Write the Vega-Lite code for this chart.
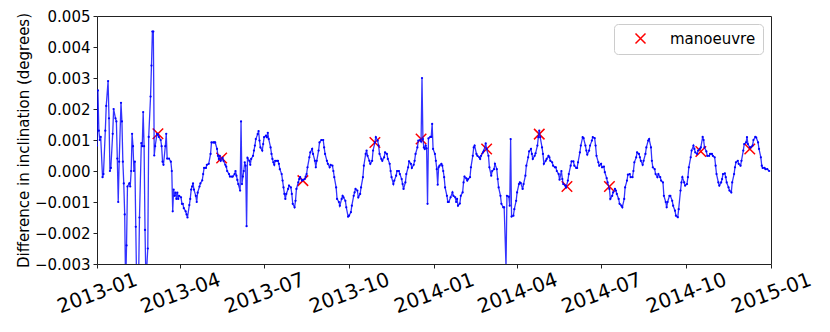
{
"$schema": "https://vega.github.io/schema/vega-lite/v6.json",
"width": 674, "height": 248,
"autosize": {"type": "none"},
"padding": {"left": 97, "top": 16, "right": 59, "bottom": 68},
"background": "white",
"config": {
 "view": {"stroke": "#222", "strokeWidth": 1},
 "font": "DejaVu Sans",
 "axis": {"grid": false, "domain": false, "tickColor": "#222", "tickWidth": 1, "labelColor": "#000", "titleColor": "#000", "labelFont": "DejaVu Sans", "titleFont": "DejaVu Sans", "titleFontWeight": "normal"}
},
"datasets": {
"s": [
{"d":"2013-01-01","v":0.00082},{"d":"2013-01-02","v":0.0026},{"d":"2013-01-03","v":0.0013},{"d":"2013-01-04","v":0.0010},{"d":"2013-01-05","v":0.0011},{"d":"2013-01-07","v":-0.0002},{"d":"2013-01-08","v":-0.0001},{"d":"2013-01-10","v":0.0013},{"d":"2013-01-11","v":0.0021},{"d":"2013-01-13","v":0.0029},{"d":"2013-01-14","v":0.0017},{"d":"2013-01-15","v":0.0},{"d":"2013-01-16","v":0.0001},{"d":"2013-01-18","v":0.0012},{"d":"2013-01-19","v":0.0020},{"d":"2013-01-21","v":0.0017},{"d":"2013-01-22","v":0.0016},{"d":"2013-01-23","v":0.0004},{"d":"2013-01-24","v":-0.0010},{"d":"2013-01-25","v":0.0003},{"d":"2013-01-27","v":0.0022},{"d":"2013-01-28","v":0.0016},{"d":"2013-01-29","v":0.0003},{"d":"2013-01-30","v":-0.0004},{"d":"2013-01-31","v":-0.0014},
{"d":"2013-02-01","v":-0.0038},{"d":"2013-02-02","v":-0.0024},{"d":"2013-02-03","v":-0.0005},{"d":"2013-02-05","v":-0.0004},{"d":"2013-02-06","v":-0.0005},{"d":"2013-02-07","v":0.0},{"d":"2013-02-08","v":0.0012},{"d":"2013-02-09","v":0.0008},{"d":"2013-02-10","v":0.0},{"d":"2013-02-11","v":0.0003},{"d":"2013-02-12","v":-0.0018},{"d":"2013-02-13","v":-0.0038},{"d":"2013-02-15","v":-0.0036},{"d":"2013-02-16","v":-0.0015},{"d":"2013-02-18","v":0.0009},{"d":"2013-02-19","v":0.0008},{"d":"2013-02-20","v":0.0019},{"d":"2013-02-21","v":0.0008},{"d":"2013-02-22","v":-0.0019},{"d":"2013-02-23","v":-0.0036},{"d":"2013-02-25","v":-0.0025},{"d":"2013-02-26","v":0.0011},{"d":"2013-02-28","v":0.0024},
{"d":"2013-03-01","v":0.0034},{"d":"2013-03-02","v":0.0045},{"d":"2013-03-03","v":0.0045},{"d":"2013-03-04","v":0.0005},{"d":"2013-03-05","v":0.0008},{"d":"2013-03-07","v":0.0012},{"d":"2013-03-08","v":0.00118},{"d":"2013-03-09","v":0.0011},{"d":"2013-03-11","v":0.0010},{"d":"2013-03-12","v":0.0008},{"d":"2013-03-13","v":0.0003},{"d":"2013-03-14","v":0.0002},{"d":"2013-03-16","v":0.0008},{"d":"2013-03-17","v":0.0012},{"d":"2013-03-18","v":0.0004},{"d":"2013-03-20","v":0.0004},{"d":"2013-03-22","v":0.0003},{"d":"2013-03-23","v":0.0},{"d":"2013-03-24","v":-0.0013},{"d":"2013-03-25","v":-0.0006},{"d":"2013-03-26","v":-0.0008},{"d":"2013-03-27","v":-0.0007},{"d":"2013-03-28","v":-0.0009},{"d":"2013-03-29","v":-0.0007},{"d":"2013-03-30","v":-0.0009},{"d":"2013-03-31","v":-0.0008},
{"d":"2013-04-02","v":-0.00085},{"d":"2013-04-03","v":-0.00106},{"d":"2013-04-04","v":-0.00106},{"d":"2013-04-05","v":-0.0012},{"d":"2013-04-07","v":-0.0013},{"d":"2013-04-08","v":-0.0014},{"d":"2013-04-09","v":-0.0015},{"d":"2013-04-11","v":-0.0011},{"d":"2013-04-12","v":-0.0009},{"d":"2013-04-13","v":-0.0006},{"d":"2013-04-14","v":-0.0005},{"d":"2013-04-15","v":-0.0004},{"d":"2013-04-16","v":-0.0006},{"d":"2013-04-18","v":-0.0008},{"d":"2013-04-19","v":-0.0010},{"d":"2013-04-20","v":-0.0007},{"d":"2013-04-22","v":-0.0005},{"d":"2013-04-23","v":-0.0004},{"d":"2013-04-25","v":-0.0003},{"d":"2013-04-26","v":-0.0001},{"d":"2013-04-27","v":0.0001},{"d":"2013-04-29","v":0.0001},{"d":"2013-04-30","v":0.0002},
{"d":"2013-05-02","v":0.00023},{"d":"2013-05-04","v":0.00055},{"d":"2013-05-05","v":0.00092},{"d":"2013-05-07","v":0.00092},{"d":"2013-05-08","v":0.00092},{"d":"2013-05-09","v":0.00092},{"d":"2013-05-11","v":0.00071},{"d":"2013-05-12","v":0.00049},{"d":"2013-05-13","v":0.00039},{"d":"2013-05-14","v":0.00049},{"d":"2013-05-15","v":0.00033},{"d":"2013-05-17","v":0.00042},{"d":"2013-05-18","v":0.00033},{"d":"2013-05-20","v":0.0002},{"d":"2013-05-21","v":0.00014},{"d":"2013-05-22","v":0.0},{"d":"2013-05-24","v":-0.0001},{"d":"2013-05-25","v":-0.00018},{"d":"2013-05-27","v":-0.00018},{"d":"2013-05-28","v":-0.00018},{"d":"2013-05-30","v":-0.0001},{"d":"2013-05-31","v":0.0},
{"d":"2013-06-01","v":-0.00015},{"d":"2013-06-02","v":-0.00029},{"d":"2013-06-03","v":-0.00042},{"d":"2013-06-05","v":-0.00063},{"d":"2013-06-06","v":0.0016},{"d":"2013-06-07","v":-0.00042},{"d":"2013-06-08","v":-0.00018},{"d":"2013-06-09","v":0.0},{"d":"2013-06-10","v":0.00028},{"d":"2013-06-11","v":0.00017},{"d":"2013-06-12","v":-0.00178},{"d":"2013-06-13","v":0.00042},{"d":"2013-06-15","v":0.00033},{"d":"2013-06-16","v":0.0002},{"d":"2013-06-17","v":0.00039},{"d":"2013-06-19","v":0.00049},{"d":"2013-06-20","v":0.00066},{"d":"2013-06-21","v":0.00082},{"d":"2013-06-22","v":0.00103},{"d":"2013-06-24","v":0.00119},{"d":"2013-06-25","v":0.00129},{"d":"2013-06-26","v":0.00098},{"d":"2013-06-27","v":0.00076},{"d":"2013-06-29","v":0.00066},{"d":"2013-06-30","v":0.00087},
{"d":"2013-07-01","v":0.00109},{"d":"2013-07-03","v":0.00114},{"d":"2013-07-04","v":0.00109},{"d":"2013-07-05","v":0.00123},{"d":"2013-07-06","v":0.00103},{"d":"2013-07-08","v":0.00076},{"d":"2013-07-09","v":0.00055},{"d":"2013-07-10","v":0.00039},{"d":"2013-07-11","v":0.00028},{"d":"2013-07-12","v":0.0002},{"d":"2013-07-13","v":0.00033},{"d":"2013-07-15","v":0.00033},{"d":"2013-07-16","v":0.00033},{"d":"2013-07-17","v":0.00023},{"d":"2013-07-18","v":0.00006},{"d":"2013-07-20","v":-0.0001},{"d":"2013-07-21","v":-0.00031},{"d":"2013-07-22","v":-0.00053},{"d":"2013-07-23","v":-0.00074},{"d":"2013-07-24","v":-0.0009},{"d":"2013-07-25","v":-0.00074},{"d":"2013-07-27","v":-0.00058},{"d":"2013-07-28","v":-0.00047},{"d":"2013-07-30","v":-0.00053},{"d":"2013-07-31","v":-0.00074},
{"d":"2013-08-01","v":-0.00106},{"d":"2013-08-03","v":-0.00117},{"d":"2013-08-04","v":-0.00096},{"d":"2013-08-05","v":-0.00058},{"d":"2013-08-07","v":-0.00037},{"d":"2013-08-08","v":-0.00026},{"d":"2013-08-09","v":-0.0002},{"d":"2013-08-11","v":-0.00031},{"d":"2013-08-12","v":-0.00029},{"d":"2013-08-14","v":-0.00026},{"d":"2013-08-15","v":-0.00018},{"d":"2013-08-16","v":-0.0001},{"d":"2013-08-17","v":0.00012},{"d":"2013-08-19","v":0.00044},{"d":"2013-08-20","v":0.0006},{"d":"2013-08-22","v":0.00071},{"d":"2013-08-23","v":0.00055},{"d":"2013-08-25","v":0.00033},{"d":"2013-08-26","v":0.00012},{"d":"2013-08-27","v":0.00033},{"d":"2013-08-29","v":0.00066},{"d":"2013-08-30","v":0.00092},
{"d":"2013-09-01","v":0.001},{"d":"2013-09-03","v":0.001},{"d":"2013-09-04","v":0.00076},{"d":"2013-09-05","v":0.00055},{"d":"2013-09-07","v":0.00033},{"d":"2013-09-08","v":0.00023},{"d":"2013-09-10","v":0.00012},{"d":"2013-09-11","v":0.0002},{"d":"2013-09-13","v":0.00017},{"d":"2013-09-14","v":0.0},{"d":"2013-09-15","v":-0.0002},{"d":"2013-09-17","v":-0.00053},{"d":"2013-09-18","v":-0.0009},{"d":"2013-09-20","v":-0.001},{"d":"2013-09-21","v":-0.00112},{"d":"2013-09-23","v":-0.0009},{"d":"2013-09-24","v":-0.0008},{"d":"2013-09-25","v":-0.00085},{"d":"2013-09-27","v":-0.00096},{"d":"2013-09-28","v":-0.00117},{"d":"2013-09-30","v":-0.00147},
{"d":"2013-10-01","v":-0.00144},{"d":"2013-10-03","v":-0.00133},{"d":"2013-10-04","v":-0.00112},{"d":"2013-10-06","v":-0.0008},{"d":"2013-10-07","v":-0.00069},{"d":"2013-10-08","v":-0.00058},{"d":"2013-10-10","v":-0.00063},{"d":"2013-10-11","v":-0.00085},{"d":"2013-10-13","v":-0.00074},{"d":"2013-10-14","v":-0.00053},{"d":"2013-10-16","v":-0.0002},{"d":"2013-10-17","v":0.00017},{"d":"2013-10-19","v":0.00055},{"d":"2013-10-20","v":0.00066},{"d":"2013-10-21","v":0.00049},{"d":"2013-10-23","v":0.00033},{"d":"2013-10-24","v":0.00023},{"d":"2013-10-26","v":0.00033},{"d":"2013-10-27","v":0.00066},{"d":"2013-10-29","v":0.00092},{"d":"2013-10-30","v":0.00109},
{"d":"2013-11-01","v":0.00098},{"d":"2013-11-02","v":0.00082},{"d":"2013-11-03","v":0.00055},{"d":"2013-11-05","v":0.00039},{"d":"2013-11-06","v":0.00033},{"d":"2013-11-08","v":0.00044},{"d":"2013-11-09","v":0.0006},{"d":"2013-11-11","v":0.00055},{"d":"2013-11-12","v":0.00039},{"d":"2013-11-14","v":0.00023},{"d":"2013-11-15","v":0.0},{"d":"2013-11-16","v":-0.0002},{"d":"2013-11-18","v":-0.00042},{"d":"2013-11-19","v":-0.00031},{"d":"2013-11-21","v":-0.00015},{"d":"2013-11-22","v":0.0},{"d":"2013-11-24","v":0.0},{"d":"2013-11-25","v":-0.0001},{"d":"2013-11-27","v":-0.00026},{"d":"2013-11-28","v":-0.00042},{"d":"2013-11-29","v":-0.00058},
{"d":"2013-12-01","v":-0.00037},{"d":"2013-12-02","v":-0.0001},{"d":"2013-12-04","v":0.00012},{"d":"2013-12-05","v":0.00031},{"d":"2013-12-07","v":0.00023},{"d":"2013-12-08","v":0.0001},{"d":"2013-12-10","v":0.0002},{"d":"2013-12-11","v":0.00033},{"d":"2013-12-12","v":0.00055},{"d":"2013-12-14","v":0.00076},{"d":"2013-12-15","v":0.00098},{"d":"2013-12-17","v":0.001},{"d":"2013-12-18","v":0.00095},{"d":"2013-12-19","v":0.003},{"d":"2013-12-20","v":0.00103},{"d":"2013-12-21","v":0.00076},{"d":"2013-12-22","v":0.00071},{"d":"2013-12-23","v":0.00082},{"d":"2013-12-24","v":0.00073},{"d":"2013-12-25","v":-0.00106},{"d":"2013-12-26","v":0.00105},{"d":"2013-12-28","v":0.0011},{"d":"2013-12-29","v":0.0011},{"d":"2013-12-30","v":0.00152},{"d":"2013-12-31","v":0.00071},
{"d":"2014-01-02","v":0.00055},{"d":"2014-01-03","v":0.00033},{"d":"2014-01-04","v":0.00006},{"d":"2014-01-05","v":-0.00044},{"d":"2014-01-06","v":0.00012},{"d":"2014-01-07","v":0.00017},{"d":"2014-01-09","v":0.00023},{"d":"2014-01-10","v":0.00017},{"d":"2014-01-11","v":0.0},{"d":"2014-01-12","v":-0.0002},{"d":"2014-01-13","v":-0.00053},{"d":"2014-01-15","v":-0.0008},{"d":"2014-01-16","v":-0.001},{"d":"2014-01-17","v":-0.001},{"d":"2014-01-19","v":-0.00085},{"d":"2014-01-21","v":-0.00069},{"d":"2014-01-22","v":-0.0008},{"d":"2014-01-24","v":-0.00085},{"d":"2014-01-25","v":-0.001},{"d":"2014-01-26","v":-0.0009},{"d":"2014-01-27","v":-0.00112},{"d":"2014-01-29","v":-0.00105},{"d":"2014-01-30","v":-0.0008},
{"d":"2014-02-01","v":-0.00069},{"d":"2014-02-02","v":-0.00037},{"d":"2014-02-03","v":-0.00018},{"d":"2014-02-05","v":-0.00024},{"d":"2014-02-06","v":-0.00031},{"d":"2014-02-07","v":-0.00026},{"d":"2014-02-09","v":-0.0002},{"d":"2014-02-10","v":0.00012},{"d":"2014-02-12","v":0.00049},{"d":"2014-02-13","v":0.00076},{"d":"2014-02-14","v":0.00082},{"d":"2014-02-16","v":0.00055},{"d":"2014-02-17","v":0.00049},{"d":"2014-02-19","v":0.00044},{"d":"2014-02-20","v":0.00039},{"d":"2014-02-21","v":0.00049},{"d":"2014-02-23","v":0.0006},{"d":"2014-02-24","v":0.00066},{"d":"2014-02-26","v":0.00089},{"d":"2014-02-27","v":0.00071},
{"d":"2014-03-01","v":0.00049},{"d":"2014-03-02","v":0.00012},{"d":"2014-03-04","v":-0.00015},{"d":"2014-03-05","v":0.0},{"d":"2014-03-07","v":0.00006},{"d":"2014-03-08","v":0.00023},{"d":"2014-03-10","v":0.00006},{"d":"2014-03-11","v":-0.00026},{"d":"2014-03-12","v":-0.00053},{"d":"2014-03-14","v":-0.0008},{"d":"2014-03-15","v":-0.00106},{"d":"2014-03-17","v":-0.00117},{"d":"2014-03-18","v":-0.00117},{"d":"2014-03-20","v":-0.0031},{"d":"2014-03-21","v":-0.0008},{"d":"2014-03-23","v":-0.00083},{"d":"2014-03-24","v":-0.00112},{"d":"2014-03-25","v":0.00103},{"d":"2014-03-26","v":-0.00147},{"d":"2014-03-28","v":-0.00144},{"d":"2014-03-29","v":-0.00123},{"d":"2014-03-31","v":-0.00096},
{"d":"2014-04-01","v":-0.00069},{"d":"2014-04-03","v":-0.00042},{"d":"2014-04-04","v":-0.00037},{"d":"2014-04-05","v":-0.00039},{"d":"2014-04-07","v":-0.00058},{"d":"2014-04-08","v":-0.00042},{"d":"2014-04-10","v":-0.00015},{"d":"2014-04-11","v":0.00017},{"d":"2014-04-13","v":0.00044},{"d":"2014-04-14","v":0.00063},{"d":"2014-04-16","v":0.00071},{"d":"2014-04-17","v":0.00055},{"d":"2014-04-18","v":0.00039},{"d":"2014-04-20","v":0.00049},{"d":"2014-04-21","v":0.00057},{"d":"2014-04-23","v":0.00082},{"d":"2014-04-24","v":0.00109},{"d":"2014-04-25","v":0.0013},{"d":"2014-04-26","v":0.00109},{"d":"2014-04-28","v":0.00076},{"d":"2014-04-29","v":0.00055},{"d":"2014-04-30","v":0.00023},
{"d":"2014-05-02","v":0.00033},{"d":"2014-05-03","v":0.00039},{"d":"2014-05-05","v":0.00049},{"d":"2014-05-06","v":0.00044},{"d":"2014-05-07","v":0.00033},{"d":"2014-05-09","v":0.00028},{"d":"2014-05-10","v":0.00017},{"d":"2014-05-12","v":0.00012},{"d":"2014-05-13","v":0.00012},{"d":"2014-05-14","v":0.0},{"d":"2014-05-16","v":-0.0001},{"d":"2014-05-17","v":-0.00028},{"d":"2014-05-19","v":0.0},{"d":"2014-05-20","v":-0.00026},{"d":"2014-05-21","v":-0.00042},{"d":"2014-05-23","v":-0.00047},{"d":"2014-05-24","v":-0.00053},{"d":"2014-05-26","v":-0.00031},{"d":"2014-05-27","v":-0.0001},{"d":"2014-05-29","v":0.00017},{"d":"2014-05-30","v":0.00031},
{"d":"2014-06-01","v":0.00031},{"d":"2014-06-02","v":0.00017},{"d":"2014-06-04","v":0.0001},{"d":"2014-06-05","v":0.0001},{"d":"2014-06-06","v":0.00028},{"d":"2014-06-08","v":0.0006},{"d":"2014-06-09","v":0.00082},{"d":"2014-06-11","v":0.00109},{"d":"2014-06-12","v":0.00106},{"d":"2014-06-14","v":0.00082},{"d":"2014-06-15","v":0.00066},{"d":"2014-06-16","v":0.00053},{"d":"2014-06-18","v":0.00066},{"d":"2014-06-19","v":0.00082},{"d":"2014-06-21","v":0.00098},{"d":"2014-06-22","v":0.00109},{"d":"2014-06-24","v":0.00106},{"d":"2014-06-25","v":0.00082},{"d":"2014-06-26","v":0.00049},{"d":"2014-06-28","v":0.00028},{"d":"2014-06-29","v":0.00017},
{"d":"2014-07-01","v":0.00023},{"d":"2014-07-02","v":0.00012},{"d":"2014-07-04","v":0.00014},{"d":"2014-07-05","v":-0.00004},{"d":"2014-07-07","v":-0.00023},{"d":"2014-07-08","v":-0.00037},{"d":"2014-07-10","v":-0.00058},{"d":"2014-07-11","v":-0.0009},{"d":"2014-07-13","v":-0.0008},{"d":"2014-07-14","v":-0.00069},{"d":"2014-07-16","v":-0.00058},{"d":"2014-07-17","v":-0.00063},{"d":"2014-07-18","v":-0.00074},{"d":"2014-07-20","v":-0.0009},{"d":"2014-07-21","v":-0.00106},{"d":"2014-07-23","v":-0.00112},{"d":"2014-07-24","v":-0.00117},{"d":"2014-07-26","v":-0.0009},{"d":"2014-07-27","v":-0.00053},{"d":"2014-07-29","v":-0.00031},{"d":"2014-07-30","v":-0.00012},
{"d":"2014-08-01","v":-0.0001},{"d":"2014-08-02","v":-0.0002},{"d":"2014-08-04","v":-0.0002},{"d":"2014-08-05","v":0.0},{"d":"2014-08-06","v":0.00028},{"d":"2014-08-08","v":0.00044},{"d":"2014-08-09","v":0.0006},{"d":"2014-08-11","v":0.00055},{"d":"2014-08-12","v":0.00044},{"d":"2014-08-13","v":0.00033},{"d":"2014-08-15","v":0.0002},{"d":"2014-08-16","v":0.00033},{"d":"2014-08-18","v":0.00055},{"d":"2014-08-19","v":0.00076},{"d":"2014-08-21","v":0.00098},{"d":"2014-08-22","v":0.00103},{"d":"2014-08-24","v":0.00076},{"d":"2014-08-25","v":0.00033},{"d":"2014-08-26","v":0.00012},{"d":"2014-08-28","v":0.00006},{"d":"2014-08-29","v":-0.0001},{"d":"2014-08-31","v":-0.0002},
{"d":"2014-09-01","v":-0.0001},{"d":"2014-09-03","v":-0.0002},{"d":"2014-09-04","v":-0.00031},{"d":"2014-09-06","v":-0.00037},{"d":"2014-09-07","v":-0.0008},{"d":"2014-09-09","v":-0.001},{"d":"2014-09-10","v":-0.00117},{"d":"2014-09-11","v":-0.001},{"d":"2014-09-13","v":-0.0008},{"d":"2014-09-14","v":-0.0008},{"d":"2014-09-16","v":-0.00096},{"d":"2014-09-17","v":-0.00112},{"d":"2014-09-19","v":-0.00128},{"d":"2014-09-20","v":-0.00144},{"d":"2014-09-22","v":-0.00149},{"d":"2014-09-23","v":-0.00123},{"d":"2014-09-25","v":-0.00063},{"d":"2014-09-26","v":-0.00037},{"d":"2014-09-27","v":-0.0002},{"d":"2014-09-29","v":-0.00037},{"d":"2014-09-30","v":-0.00047},
{"d":"2014-10-02","v":-0.00042},{"d":"2014-10-03","v":-0.0002},{"d":"2014-10-04","v":0.00012},{"d":"2014-10-06","v":0.00044},{"d":"2014-10-07","v":0.00066},{"d":"2014-10-09","v":0.00082},{"d":"2014-10-10","v":0.00071},{"d":"2014-10-11","v":0.0006},{"d":"2014-10-13","v":0.00055},{"d":"2014-10-14","v":0.00066},{"d":"2014-10-16","v":0.00071},{"d":"2014-10-17","v":0.00076},{"d":"2014-10-19","v":0.0011},{"d":"2014-10-20","v":0.001},{"d":"2014-10-21","v":0.00076},{"d":"2014-10-23","v":0.00063},{"d":"2014-10-24","v":0.00049},{"d":"2014-10-26","v":0.00049},{"d":"2014-10-27","v":0.00055},{"d":"2014-10-29","v":0.00055},{"d":"2014-10-30","v":0.00049},
{"d":"2014-11-01","v":0.00044},{"d":"2014-11-02","v":0.00017},{"d":"2014-11-03","v":-0.0001},{"d":"2014-11-05","v":-0.00037},{"d":"2014-11-06","v":-0.00047},{"d":"2014-11-08","v":-0.00037},{"d":"2014-11-09","v":-0.00026},{"d":"2014-11-10","v":-0.0001},{"d":"2014-11-12","v":-0.00008},{"d":"2014-11-13","v":-0.0002},{"d":"2014-11-14","v":-0.00037},{"d":"2014-11-16","v":-0.00053},{"d":"2014-11-17","v":-0.00063},{"d":"2014-11-19","v":-0.00069},{"d":"2014-11-20","v":-0.00037},{"d":"2014-11-22","v":-0.0001},{"d":"2014-11-23","v":0.00012},{"d":"2014-11-24","v":0.00028},{"d":"2014-11-26","v":0.00033},{"d":"2014-11-27","v":0.00023},{"d":"2014-11-29","v":0.00017},{"d":"2014-11-30","v":0.00033},
{"d":"2014-12-02","v":0.00066},{"d":"2014-12-03","v":0.00087},{"d":"2014-12-05","v":0.00092},{"d":"2014-12-06","v":0.00109},{"d":"2014-12-07","v":0.00087},{"d":"2014-12-09","v":0.00076},{"d":"2014-12-10","v":0.00076},{"d":"2014-12-12","v":0.00082},{"d":"2014-12-13","v":0.001},{"d":"2014-12-15","v":0.0011},{"d":"2014-12-16","v":0.00108},{"d":"2014-12-18","v":0.00092},{"d":"2014-12-19","v":0.00071},{"d":"2014-12-21","v":0.00044},{"d":"2014-12-22","v":0.00017},{"d":"2014-12-23","v":0.0001},{"d":"2014-12-25","v":0.0001},{"d":"2014-12-26","v":0.00006},{"d":"2014-12-28","v":0.00006},{"d":"2014-12-30","v":0.0}
],
"m": [
{"d":"2013-03-08","v":0.0012,"k":"manoeuvre"},{"d":"2013-05-16","v":0.00042,"k":"manoeuvre"},{"d":"2013-08-12","v":-0.00031,"k":"manoeuvre"},{"d":"2013-10-29","v":0.00092,"k":"manoeuvre"},{"d":"2013-12-18","v":0.00103,"k":"manoeuvre"},{"d":"2014-02-27","v":0.00071,"k":"manoeuvre"},{"d":"2014-04-25","v":0.00119,"k":"manoeuvre"},{"d":"2014-05-25","v":-0.0005,"k":"manoeuvre"},{"d":"2014-07-10","v":-0.0005,"k":"manoeuvre"},{"d":"2014-10-17","v":0.00063,"k":"manoeuvre"},{"d":"2014-12-09","v":0.00071,"k":"manoeuvre"}
]
},
"encoding": {
 "x": {"field": "d", "type": "temporal",
  "scale": {"type": "utc", "domain": [{"year": 2013, "month": 1, "date": 1, "utc": true}, {"year": 2015, "month": 1, "date": 1, "utc": true}]},
  "axis": {"title": null, "format": "%Y-%m", "labelAngle": -20, "labelAlign": "center", "labelBaseline": "middle", "labelFontSize": 20, "labelPadding": 25, "tickSize": 4, "labelOverlap": false, "labelFlush": false,
   "values": [{"year": 2013, "month": 1, "date": 1, "utc": true}, {"year": 2013, "month": 4, "date": 1, "utc": true}, {"year": 2013, "month": 7, "date": 1, "utc": true}, {"year": 2013, "month": 10, "date": 1, "utc": true}, {"year": 2014, "month": 1, "date": 1, "utc": true}, {"year": 2014, "month": 4, "date": 1, "utc": true}, {"year": 2014, "month": 7, "date": 1, "utc": true}, {"year": 2014, "month": 10, "date": 1, "utc": true}, {"year": 2015, "month": 1, "date": 1, "utc": true}]}},
 "y": {"field": "v", "type": "quantitative",
  "scale": {"domain": [-0.003, 0.005], "nice": false, "zero": false},
  "axis": {"title": "Difference in inclination (degrees)", "values": [-0.003, -0.002, -0.001, 0, 0.001, 0.002, 0.003, 0.004, 0.005], "format": ".3f", "labelFontSize": 15, "titleFontSize": 15, "tickSize": 4, "labelPadding": 3, "titlePadding": 3}}
},
"layer": [
 {"data": {"name": "m"},
  "mark": {"type": "point", "filled": false, "stroke": "red", "strokeWidth": 1.5, "size": 110, "opacity": 1},
  "encoding": {"shape": {"field": "k", "type": "nominal", "scale": {"range": ["M-1,-1L1,1M-1,1L1,-1"]},
   "legend": {"title": null, "orient": "top-right", "offset": 8, "padding": 7, "strokeColor": "#cccccc", "fillColor": "white", "cornerRadius": 4, "labelFontSize": 15, "labelFont": "DejaVu Sans", "labelColor": "#000", "symbolStrokeColor": "red", "symbolStrokeWidth": 1.5, "symbolSize": 100, "symbolOffset": 12, "labelOffset": 22}}}},
 {"data": {"name": "s"},
  "mark": {"type": "line", "color": "blue", "strokeWidth": 1.3, "opacity": 0.8, "clip": true, "point": {"filled": true, "size": 5, "color": "blue", "clip": true}}}
]
}
